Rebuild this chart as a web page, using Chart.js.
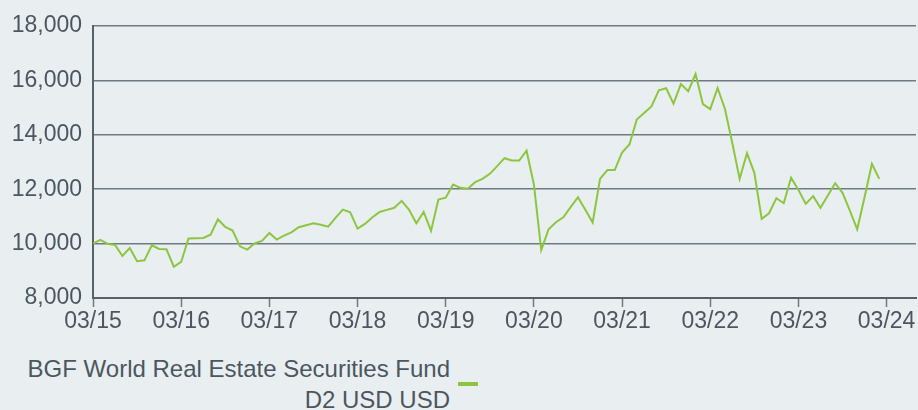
<!DOCTYPE html>
<html>
<head>
<meta charset="utf-8">
<script src="https://cdn.jsdelivr.net/npm/chart.js@4.4.1/dist/chart.umd.min.js"></script>
<style>
  html, body { margin: 0; padding: 0; background: #e9eef1; }
  #wrap { position: relative; width: 918px; height: 410px; overflow: hidden; }
  #box { position: absolute; left: 0; top: 0; width: 918px; height: 340px; }
  #legend { position: absolute; left: 0; top: 353px; width: 450px; text-align: right;
    font-family: "Liberation Sans", Arial, sans-serif; font-size: 24px; line-height: 31px; color: #4b5760; }
  #mark { position: absolute; left: 458px; top: 382px; width: 20px; height: 4px; background: #8cc63f; }
</style>
</head>
<body>
<div id="wrap">
  <div id="box"><canvas id="myChart"></canvas></div>
  <div id="legend">BGF World Real Estate Securities Fund<br>D2 USD USD</div>
  <div id="mark"></div>
</div>
<script>
// month-end values, growth of 10,000 from 03/15
var fundValues = [
  10000, 10135, 9990, 9950, 9545, 9840, 9350, 9385, 9940, 9805, 9790, 9150,
  9325, 10185, 10195, 10210, 10330, 10895, 10615, 10480, 9900, 9780, 10010, 10100,
  10390, 10150, 10295, 10415, 10600, 10675, 10750, 10690, 10625, 10945, 11250, 11155,
  10550, 10725, 10960, 11165, 11240, 11315, 11570, 11250, 10750, 11165, 10465, 11620,
  11690, 12170, 12050, 12020, 12260, 12380, 12565, 12850, 13140, 13055, 13055, 13415,
  12175, 9765, 10525, 10785, 10970, 11340, 11705, 11240, 10775, 12380, 12705, 12705,
  13350, 13645, 14560, 14800, 15045, 15635, 15710, 15145, 15865, 15600, 16235, 15130,
  14945, 15720, 14950, 13700, 12380, 13325, 12600, 10910, 11115, 11670, 11485, 12420,
  11975, 11460, 11745, 11315, 11770, 12220, 11865, 11215, 10525, 11705, 12935, 12380
];
var tickLabels = ["03/15","03/16","03/17","03/18","03/19","03/20","03/21","03/22","03/23","03/24"];
var yTicks = [8000, 10000, 12000, 14000, 16000, 18000];

var textColor = "#4b5760";
var gridColor = "#6f7b83";
var axisColor = "#56626a";

var points = fundValues.map(function (v, i) { return { x: i, y: v }; });

new Chart("myChart", {
  type: "line",
  data: {
    datasets: [{
      label: "BGF World Real Estate Securities Fund D2 USD USD",
      data: points,
      borderColor: "#8cc63f",
      borderWidth: 2,
      pointRadius: 0,
      tension: 0,
      fill: false
    }]
  },
  options: {
    responsive: true,
    maintainAspectRatio: false,
    animation: false,
    layout: { padding: { top: 26, right: 2, left: 0, bottom: 0 } },
    plugins: {
      legend: { display: false },
      tooltip: { enabled: false }
    },
    scales: {
      x: {
        type: "linear",
        min: 0,
        max: 112,
        afterBuildTicks: function (scale) {
          scale.ticks = tickLabels.map(function (l, i) { return { value: i * 12 }; });
        },
        afterFit: function (scale) { scale.height = 42; },
        ticks: {
          autoSkip: false,
          maxRotation: 0,
          padding: 1,
          color: textColor,
          font: { family: "'Liberation Sans', Arial, sans-serif", size: 23 },
          callback: function (v) { return tickLabels[Math.round(v / 12)]; }
        },
        grid: { drawOnChartArea: false, drawTicks: true, tickLength: 9, tickColor: gridColor, tickWidth: 1.5 },
        border: { display: true, color: axisColor, width: 2 }
      },
      y: {
        min: 8000,
        max: 18000,
        afterBuildTicks: function (scale) {
          scale.ticks = yTicks.map(function (v) { return { value: v }; });
        },
        afterFit: function (scale) { scale.width = 93; },
        ticks: {
          padding: 11,
          color: textColor,
          font: { family: "'Liberation Sans', Arial, sans-serif", size: 23 },
          callback: function (v) { return v.toLocaleString("en-US"); }
        },
        grid: { color: gridColor, lineWidth: 1.5, drawTicks: false },
        border: { display: true, color: axisColor, width: 2 }
      }
    }
  }
});
</script>
</body>
</html>
